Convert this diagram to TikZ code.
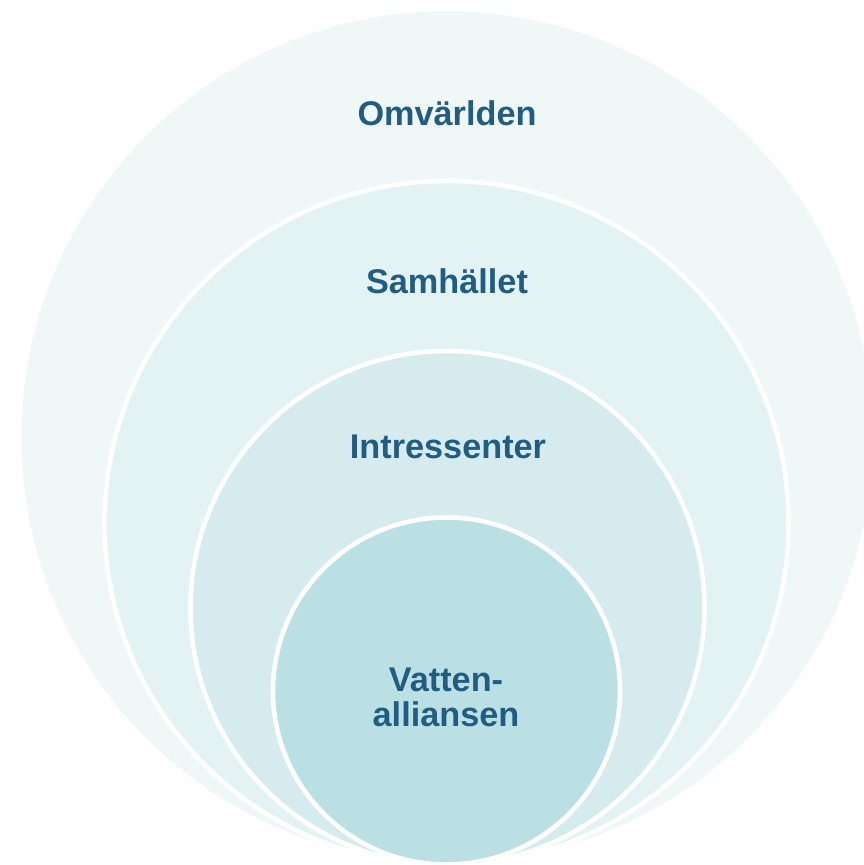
\documentclass[tikz,border=0pt]{standalone}
\usepackage{fontspec}
\setmainfont{Liberation Sans}
\usepackage{xcolor}
\definecolor{ringA}{HTML}{EFF8F7}
\definecolor{ringB}{HTML}{E3F2F3}
\definecolor{ringC}{HTML}{D6EBED}
\definecolor{ringD}{HTML}{BBE0E3}
\definecolor{labelblue}{HTML}{215C82}

\begin{document}
\begin{tikzpicture}[
    x=0.02cm,y=0.02cm,
    ring/.style={draw=white,line width=2.6pt},
    ringlabel/.style={align=center,font=\fontsize{19.5}{20}\selectfont\bfseries,text=labelblue,inner sep=0pt}
  ]
    \useasboundingbox (0,0) rectangle (864,865);
    \clip (0,0) rectangle (864,865);

    % Nested rings, all touching at the bottom
    \filldraw[ring,fill=ringA] (447,428) circle[radius=428];
    \filldraw[ring,fill=ringB] (446.5,342) circle[radius=342];
    \filldraw[ring,fill=ringC] (447.5,257) circle[radius=257];
    \filldraw[ring,fill=ringD] (446.5,174) circle[radius=173.5];

    % Ring labels
    \node[ringlabel] (omv) at (447,752) {Omvärlden};
    \node[ringlabel] (samh) at (447,584) {Samhället};
    \node[ringlabel] (intr) at (448,418) {Intressenter};
    \node[ringlabel] (va) at (446,168) {Vatten-\\alliansen};
  \end{tikzpicture}
\end{document}
